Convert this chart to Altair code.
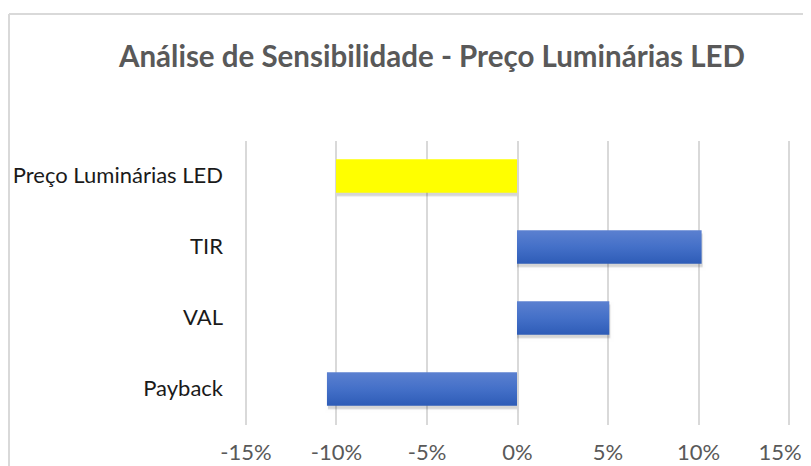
import altair as alt
import pandas as pd

categories = ["Preço Luminárias LED", "TIR", "VAL", "Payback"]
values = [-0.10, 0.102, 0.051, -0.105]
highlight = [True, False, False, False]
tick_values = [-0.15, -0.10, -0.05, 0.0, 0.05, 0.10, 0.15]

df = pd.DataFrame({"cat": categories, "val": values, "hl": highlight})

W, H = 543, 284
PL, PT = 237.5, 132.5

y_enc = alt.Y("cat:N", sort=categories, title=None,
              scale=alt.Scale(paddingInner=0.53, paddingOuter=0.265),
              axis=alt.Axis(labelFont="Lato", labelFontSize=22, labelColor="#1a1a1a",
                            labelPadding=23, ticks=False, domain=False, grid=False,
                            labelLimit=400))
x_enc = alt.X("val:Q", title=None,
              scale=alt.Scale(domain=[-0.15, 0.15], nice=False),
              axis=alt.Axis(values=tick_values,
                            labelExpr="replace(format(datum.value, '.0%'), '\u2212', '-')",
                            labelFont="Lato",
                            labelFontSize=22, labelColor="#595959", labelPadding=18,
                            labelOffset={"condition": {"test": "datum.value >= 0.149", "value": -9},
                                         "value": 0},
                            ticks=False, domain=False, gridColor="#d9d9d9",
                            gridWidth=2, labelFlush=False))

base = alt.Chart(df).encode(y=y_enc, x=x_enc, x2=alt.datum(0))

shadows = [
    base.mark_bar(color="#000000", opacity=0.06, xOffset=1, yOffset=4,
                  stroke="#000000", strokeWidth=6, strokeOpacity=0.04),
    base.mark_bar(color="#000000", opacity=0.10, xOffset=1, yOffset=3,
                  stroke="#000000", strokeWidth=3, strokeOpacity=0.06),
]

blue_grad = alt.Gradient(gradient="linear", x1=0, x2=0, y1=0, y2=1,
                         stops=[alt.GradientStop(color="#5b80d0", offset=0),
                                alt.GradientStop(color="#4470c8", offset=0.5),
                                alt.GradientStop(color="#2e5cb7", offset=1)])

yellow = base.mark_bar(color="#ffff00").transform_filter("datum.hl")
blue = base.mark_bar(color=blue_grad).transform_filter("!datum.hl")

border = alt.Chart(df).mark_rule(color="#d9d9d9", strokeWidth=2, clip=False).encode(
    x=alt.value(9 - 8 - PL), y=alt.value(14 - 8 - PT), y2=alt.value(600)
)
border_top = alt.Chart(df).mark_rule(color="#d9d9d9", strokeWidth=2, clip=False).encode(
    x=alt.value(9 - 8 - PL), x2=alt.value(1200), y=alt.value(14 - 8 - PT)
)

chart = alt.layer(border, border_top, *shadows, yellow, blue).properties(
    width=W, height=H,
    background="white",
    title=alt.TitleParams("Análise de Sensibilidade - Preço Luminárias LED",
                          font="Lato", fontSize=29.5, fontWeight="bold",
                          color="#595959", anchor="middle", dx=-85, offset=0,
                          baseline="top", dy=60),
    autosize=alt.AutoSizeParams(type="none"),
    padding={"left": PL, "top": PT, "right": 14, "bottom": 41},
).configure_view(strokeWidth=0)

chart.save("out.html", embed_options={"renderer": "svg", "actions": False})
